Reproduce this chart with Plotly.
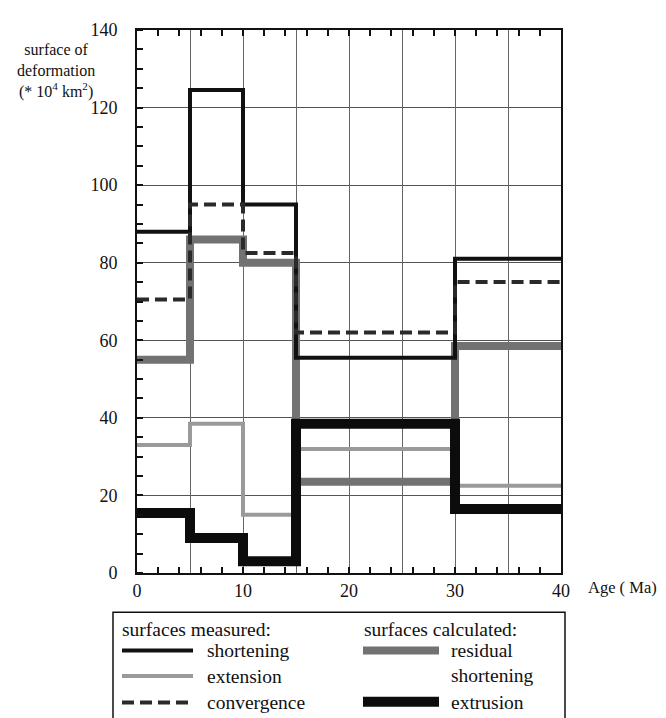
import plotly.graph_objects as go

# Age boundaries of the step intervals (Ma)
age_bounds = [0, 5, 10, 15, 30, 40]

# Surfaces of deformation (* 10^4 km^2) per interval
shortening = [88, 124.5, 95, 55.5, 81]
extension = [33, 38.5, 15, 32, 22.5]
convergence = [70.5, 95, 82.5, 62, 75]
residual_shortening = [55, 86, 80, 23.5, 58.5]
extrusion = [15.5, 9, 3, 38.5, 16.5]

x_ticks = [0, 10, 20, 30, 40]
y_ticks = [0, 20, 40, 60, 80, 100, 120, 140]

FONT = "Liberation Serif"

def step_y(vals):
    return list(vals) + [vals[-1]]

fig = go.Figure()

series = [
    ("extension", extension, dict(color="#9a9a9a", width=4)),
    ("residual shortening", residual_shortening, dict(color="#727272", width=8)),
    ("shortening", shortening, dict(color="#111111", width=4)),
    ("convergence", convergence, dict(color="#2a2a2a", width=4, dash="12px,6px")),
    ("extrusion", extrusion, dict(color="#0c0c0c", width=10)),
]
for name, vals, line in series:
    fig.add_trace(go.Scatter(x=age_bounds, y=step_y(vals), mode="lines",
                             line_shape="hv", line=line, name=name,
                             showlegend=False, cliponaxis=False))

# dummy trace for secondary x axis (grid every 5 Ma)
fig.add_trace(go.Scatter(x=[0, 40], y=[0, 0], xaxis="x2", mode="lines",
                         line=dict(width=0), showlegend=False, hoverinfo="skip"))

# page has an 8px body margin, so the figure is sized to the remaining area
fig.update_layout(
    width=658, height=710,
    margin=dict(l=129, r=105, t=12, b=145),
    paper_bgcolor="white", plot_bgcolor="white",
    font=dict(family=FONT, size=18, color="#111"),
    xaxis=dict(range=[0, 40], tickvals=x_ticks, ticks="inside", ticklen=6,
               tickwidth=1.5, tickcolor="#111", showgrid=False, zeroline=False,
               showline=True, linewidth=2, linecolor="#111", mirror="allticks",
               minor=dict(dtick=2, ticks="inside", ticklen=6, tickwidth=1.5,
                          tickcolor="#111", showgrid=False),
               tickfont=dict(family=FONT, size=18), ticklabelstandoff=0),
    xaxis2=dict(range=[0, 40], overlaying="x", dtick=5, showgrid=True,
                gridcolor="#666", gridwidth=1, showticklabels=False,
                ticks="", zeroline=False, showline=False),
    yaxis=dict(range=[0, 140], tickvals=y_ticks, ticks="", showgrid=True,
               gridcolor="#555", gridwidth=1, zeroline=False,
               showline=True, linewidth=2, linecolor="#111", mirror=True,
               minor=dict(dtick=5, ticks="inside", ticklen=6, tickwidth=1.5,
                          tickcolor="#111", showgrid=False),
               tickfont=dict(family=FONT, size=18), ticklabelstandoff=14),
)

def px(xp):
    return (xp - 137) / 424

def py(yp):
    return (573 - yp) / 553

# y axis title
fig.add_annotation(xref="paper", yref="paper", x=px(56), y=py(62),
                   text="surface of<br>deformation<br>(* 10<sup>4</sup> km<sup>2</sup>)",
                   showarrow=False, xanchor="center", yanchor="middle",
                   font=dict(family=FONT, size=16), align="center")
# x axis title
fig.add_annotation(xref="paper", yref="paper", x=px(586), y=py(588),
                   text="Age ( Ma)", showarrow=False, xanchor="left", yanchor="middle",
                   font=dict(family=FONT, size=16.5))

# legend box
fig.add_shape(type="rect", xref="paper", yref="paper", x0=px(113), x1=px(565),
              y0=py(730), y1=py(613), line=dict(color="#111", width=1.5),
              fillcolor="rgba(0,0,0,0)")

LEG = 19.5
legend_left = [
    ("shortening", dict(color="#111111", width=4), 652),
    ("extension", dict(color="#9a9a9a", width=4), 678),
    ("convergence", dict(color="#2a2a2a", width=4, dash="12px,6px"), 705),
]
fig.add_annotation(xref="paper", yref="paper", x=px(120), y=py(631),
                   text="surfaces measured:", showarrow=False, xanchor="left",
                   yanchor="middle", font=dict(family=FONT, size=LEG))
for label, line, yp in legend_left:
    fig.add_shape(type="line", xref="paper", yref="paper", x0=px(122), x1=px(193),
                  y0=py(yp), y1=py(yp), line=line)
    fig.add_annotation(xref="paper", yref="paper", x=px(205), y=py(yp),
                       text=label, showarrow=False, xanchor="left", yanchor="middle",
                       font=dict(family=FONT, size=LEG))

fig.add_annotation(xref="paper", yref="paper", x=px(362), y=py(631),
                   text="surfaces calculated:", showarrow=False, xanchor="left",
                   yanchor="middle", font=dict(family=FONT, size=LEG))
fig.add_shape(type="line", xref="paper", yref="paper", x0=px(363), x1=px(439),
              y0=py(652), y1=py(652), line=dict(color="#727272", width=8))
fig.add_annotation(xref="paper", yref="paper", x=px(449), y=py(652),
                   text="residual", showarrow=False, xanchor="left", yanchor="middle",
                   font=dict(family=FONT, size=LEG))
fig.add_annotation(xref="paper", yref="paper", x=px(449), y=py(677),
                   text="shortening", showarrow=False, xanchor="left", yanchor="middle",
                   font=dict(family=FONT, size=LEG))
fig.add_shape(type="line", xref="paper", yref="paper", x0=px(363), x1=px(439),
              y0=py(704), y1=py(704), line=dict(color="#0c0c0c", width=10))
fig.add_annotation(xref="paper", yref="paper", x=px(449), y=py(705),
                   text="extrusion", showarrow=False, xanchor="left", yanchor="middle",
                   font=dict(family=FONT, size=LEG))

fig.write_html("out.html")
